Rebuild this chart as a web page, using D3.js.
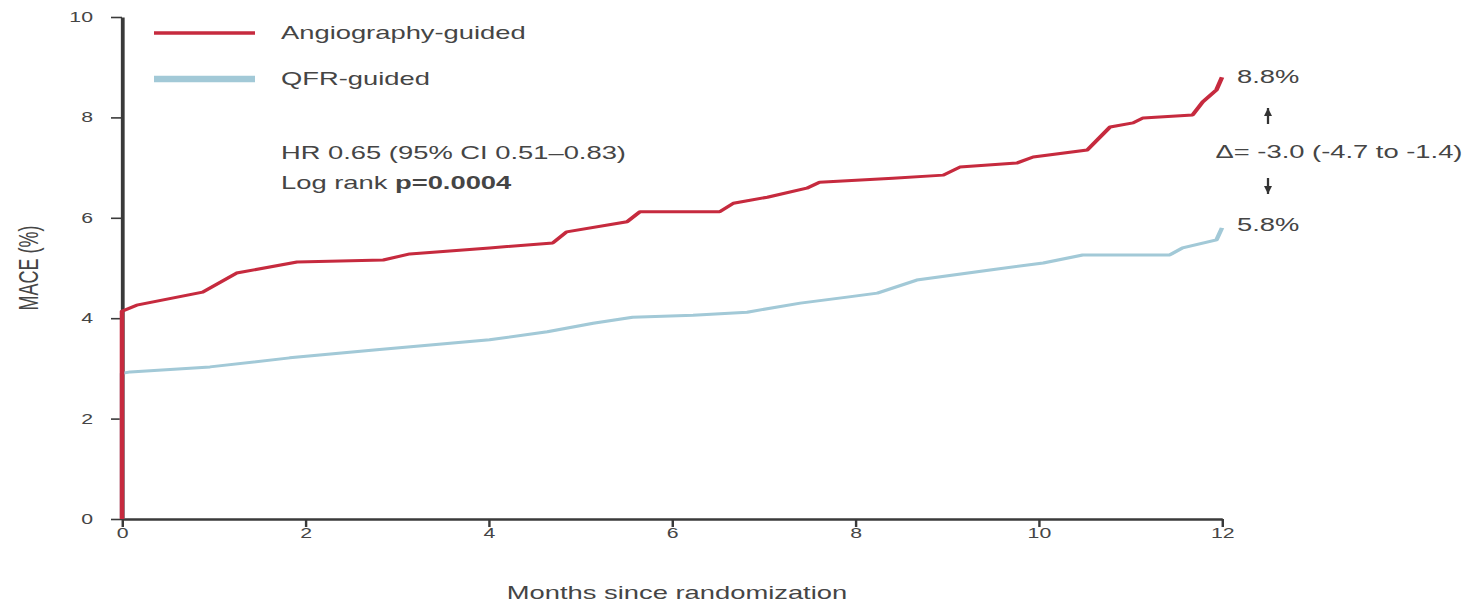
<!DOCTYPE html>
<html>
<head>
<meta charset="utf-8">
<script src="https://cdn.jsdelivr.net/npm/d3@7"></script>
<style>
  html, body { margin: 0; padding: 0; background: #fff; }
  svg { display: block; font-family: "Liberation Sans", Arial, sans-serif; }
</style>
</head>
<body>
<svg id="chart" width="1470" height="610"></svg>
<script>
// Cumulative MACE (%) by month since randomization
const monthTicks = [0, 2, 4, 6, 8, 10, 12];
const maceTicks = [0, 2, 4, 6, 8, 10];

const angioMonths = [0, 0, 0.16, 0.88, 1.25, 1.91, 2.85, 3.14, 4.01, 4.70, 4.85, 5.51, 5.65, 6.52, 6.67, 7.04, 7.47, 7.61, 8.41, 8.96, 9.14, 9.76, 9.94, 10.53, 10.78, 11.03, 11.14, 11.68, 11.79, 11.94, 12.0];
const angioMace   = [0, 4.14, 4.26, 4.52, 4.90, 5.12, 5.16, 5.28, 5.40, 5.50, 5.72, 5.92, 6.12, 6.12, 6.29, 6.41, 6.59, 6.71, 6.79, 6.85, 7.01, 7.09, 7.21, 7.35, 7.81, 7.89, 7.99, 8.05, 8.31, 8.55, 8.8];

const qfrMonths = [0, 0, 0.09, 0.96, 1.83, 2.78, 4.01, 4.64, 5.14, 5.57, 6.23, 6.82, 7.40, 7.91, 8.24, 8.67, 9.47, 10.05, 10.48, 11.43, 11.57, 11.94, 12.0];
const qfrMace   = [0, 2.9, 2.93, 3.03, 3.21, 3.37, 3.57, 3.73, 3.90, 4.02, 4.06, 4.12, 4.30, 4.42, 4.50, 4.76, 4.96, 5.10, 5.26, 5.26, 5.40, 5.56, 5.8];

const seriesNames = ["Angiography-guided", "QFR-guided"];
const finalRates = [8.8, 5.8];
const hrText = "HR 0.65 (95% CI 0.51\u20130.83)";
const logRankLabel = "Log rank ";
const logRankP = "p=0.0004";
const deltaText = "\u0394= -3.0 (-4.7 to -1.4)";

// The figure is laid out in a horizontally condensed frame and widened by SX,
// which gives the wide lettering and heavier vertical strokes of the original artwork.
const SX = 1.52;
const px = v => v / SX;   // page x-pixel -> frame x

const svg = d3.select("#chart");
const root = svg.append("g").attr("transform", `scale(${SX},1)`);

const x = d3.scaleLinear().domain([0, 12]).range([px(122), px(1222)]);
const y = d3.scaleLinear().domain([0, 10]).range([519, 17]);

const axisColor = "#3a3a3a";
const textColor = "#454545";
const red = "#c62a3e";
const blue = "#a2c9d7";
const FONT = "18px";

// axes
const gx = root.append("g").attr("transform", `translate(0,${y(0)})`)
  .call(d3.axisBottom(x).tickValues(monthTicks).tickSize(8).tickSizeOuter(0).tickPadding(1));
const gy = root.append("g").attr("transform", `translate(${x(0)},0)`)
  .call(d3.axisLeft(y).tickValues(maceTicks).tickSize(px(11)).tickSizeOuter(0).tickPadding(px(18)));
[gx, gy].forEach(g => {
  g.select(".domain").attr("stroke", axisColor).attr("stroke-width", 2.5);
  g.selectAll(".tick line").attr("stroke", axisColor).attr("stroke-width", 1.6);
  g.selectAll(".tick text").attr("fill", textColor).style("font-size", "14px")
    .style("font-family", "'Liberation Sans', Arial, sans-serif");
});

root.append("text").attr("x", px(677)).attr("y", 599).attr("text-anchor", "middle")
  .attr("fill", textColor).style("font-size", FONT).text("Months since randomization");
root.append("text").attr("transform", `translate(${px(38)},${y(5.0)}) rotate(-90)`).attr("text-anchor", "middle")
  .attr("fill", textColor).style("font-size", FONT).text("MACE (%)");

// curves
const line = d3.line().x(d => x(d[0])).y(d => y(d[1])).curve(d3.curveLinear);
const qfrPts = qfrMonths.map((m, i) => [m, qfrMace[i]]);
const angioPts = angioMonths.map((m, i) => [m, angioMace[i]]);
root.append("path").datum(qfrPts).attr("d", line).attr("fill", "none")
  .attr("stroke", blue).attr("stroke-width", 3).attr("stroke-linejoin", "round");
root.append("path").datum(angioPts).attr("d", line).attr("fill", "none")
  .attr("stroke", red).attr("stroke-width", 3).attr("stroke-linejoin", "round");

// legend
const legendColors = [red, blue];
const legendY = [33, 79];
const legendW = [3.5, 6.5];
const legendTextY = [39, 85];
seriesNames.forEach((name, i) => {
  root.append("line").attr("x1", px(154)).attr("x2", px(255)).attr("y1", legendY[i]).attr("y2", legendY[i])
    .attr("stroke", legendColors[i]).attr("stroke-width", legendW[i]);
  root.append("text").attr("x", px(281)).attr("y", legendTextY[i]).attr("fill", textColor)
    .style("font-size", FONT).text(name);
});

// statistics text
root.append("text").attr("x", px(281)).attr("y", 159).attr("fill", textColor)
  .style("font-size", FONT).text(hrText);
const lr = root.append("text").attr("x", px(281)).attr("y", 189).attr("fill", textColor).style("font-size", FONT);
lr.append("tspan").text(logRankLabel);
lr.append("tspan").attr("font-weight", "bold").text(logRankP);

// end-of-follow-up annotation
root.append("text").attr("x", px(1237)).attr("y", 83).attr("fill", textColor)
  .style("font-size", FONT).text(finalRates[0].toFixed(1) + "%");
root.append("text").attr("x", px(1237)).attr("y", 231).attr("fill", textColor)
  .style("font-size", FONT).text(finalRates[1].toFixed(1) + "%");
root.append("text").attr("x", px(1339)).attr("y", 158).attr("text-anchor", "middle").attr("fill", textColor)
  .style("font-size", FONT).text(deltaText);

// arrows between the two rates
const ax = px(1268);
function arrow(yTip, dir) {
  root.append("line").attr("x1", ax).attr("x2", ax).attr("y1", yTip).attr("y2", yTip - dir * 16)
    .attr("stroke", "#333").attr("stroke-width", 1.5);
  root.append("path")
    .attr("d", `M${ax},${yTip} L${ax - px(4)},${yTip - dir * 8} L${ax + px(4)},${yTip - dir * 8} Z`)
    .attr("fill", "#333");
}
arrow(108, -1);
arrow(194, 1);
</script>
</body>
</html>
